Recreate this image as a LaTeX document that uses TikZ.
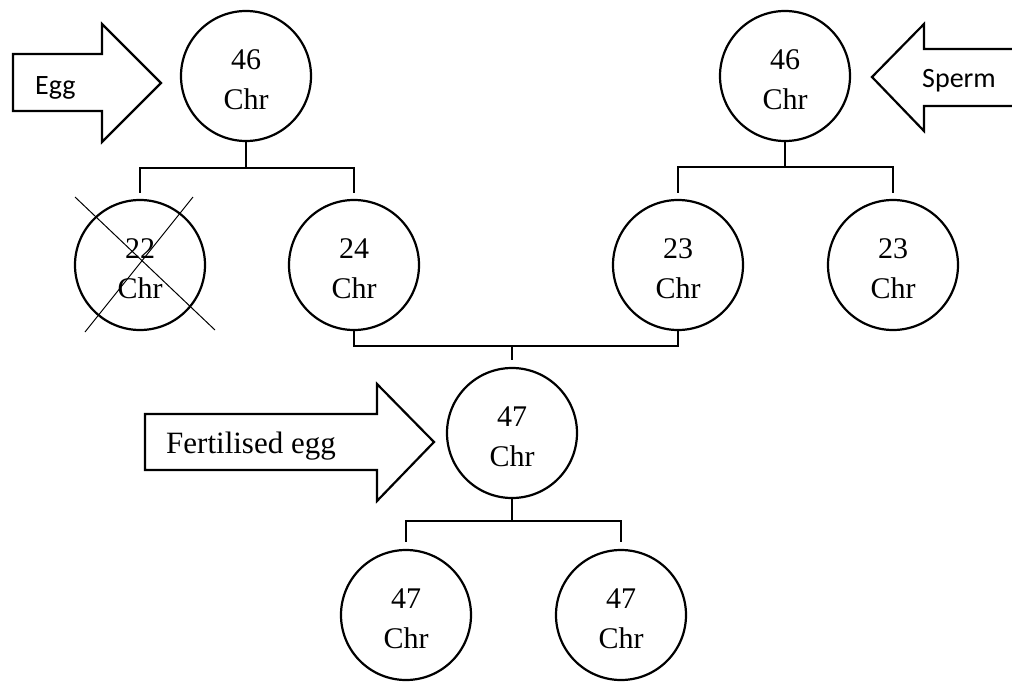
\documentclass[tikz,border=0pt]{standalone}
\usepackage{fontspec}
\setmainfont{Liberation Serif}
\newfontfamily\calfont{Carlito}
\usetikzlibrary{calc}
\begin{document}
\begin{tikzpicture}[x=1pt,y=-1pt,
  chrom/.style={circle,draw,line width=2.2pt,minimum size=130pt,inner sep=0pt,
    label={[font=\fontsize{30}{40}\selectfont,align=center,yshift=-4pt]center:#1\\Chr}},
  link/.style={line width=1.3pt},
  bigarrow/.style={draw,line width=2.2pt,line join=miter},
  cross/.style={line width=1pt},
  sanslabel/.style={anchor=base west,inner sep=0pt,font=\calfont\fontsize{28}{34}\selectfont},
  seriflabel/.style={anchor=base west,inner sep=0pt,font=\fontsize{31}{38}\selectfont}]
\useasboundingbox (0,0) rectangle (1012,683);
\clip (0,0) rectangle (1012,683);

% cells
\node[chrom=46] (p1) at (246,76) {};
\node[chrom=46] (p2) at (785,76) {};
\node[chrom=22] (c1) at (140,265) {};
\node[chrom=24] (c2) at (354,265) {};
\node[chrom=23] (c3) at (678,265) {};
\node[chrom=23] (c4) at (893,265) {};
\node[chrom=47] (z)  at (512,433) {};
\node[chrom=47] (d1) at (406,615) {};
\node[chrom=47] (d2) at (621,615) {};

% the discarded cell is crossed out
\draw[cross] ($(c1)+(-65,-68)$) -- ($(c1)+(75,65)$);
\draw[cross] ($(c1)+(53,-68)$) -- ($(c1)+(-55,67)$);

% division brackets
\coordinate (bA) at (0,168);
\draw[link] (p1.south) -- (p1.south |- bA);
\draw[link] ([yshift=6pt]c1.north) -- (c1.north |- bA) -- (c2.north |- bA) -- ([yshift=6pt]c2.north);

\coordinate (bB) at (0,167);
\draw[link] (p2.south) -- (p2.south |- bB);
\draw[link] ([yshift=6pt]c3.north) -- (c3.north |- bB) -- (c4.north |- bB) -- ([yshift=6pt]c4.north);

% fusion of the two gametes
\coordinate (bC) at (0,346);
\draw[link] (c2.south) -- (c2.south |- bC) -- (c3.south |- bC) -- (c3.south);
\draw[link] (z.north |- bC) -- ([yshift=7pt]z.north);

\coordinate (bD) at (0,521);
\draw[link] (z.south) -- (z.south |- bD);
\draw[link] ([yshift=7pt]d1.north) -- (d1.north |- bD) -- (d2.north |- bD) -- ([yshift=7pt]d2.north);

% block arrows with their labels
\draw[bigarrow] (13,54) -- (102,54) -- (102,24) -- (161,83) -- (102,142) -- (102,111) -- (13,111) -- cycle;
\node[sanslabel] (egg) at (35,94) {Egg};

\draw[bigarrow] (872,77) -- (924,24) -- (924,49) -- (1030,49) -- (1030,106) -- (924,106) -- (924,131) -- cycle;
\node[sanslabel] (sperm) at (922,87) {Sperm};

\draw[bigarrow] (145,414) -- (377,414) -- (377,384) -- (434,442) -- (377,501) -- (377,470) -- (145,470) -- cycle;
\node[seriflabel] (fert) at (166,453) {Fertilised egg};
\end{tikzpicture}
\end{document}
